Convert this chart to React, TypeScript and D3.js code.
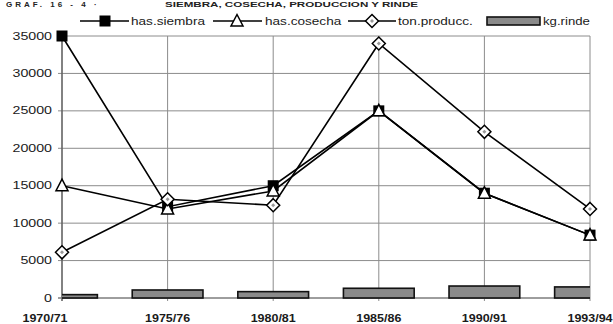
import React from 'react';
import * as d3 from 'd3';

const categories = ['1970/71', '1975/76', '1980/81', '1985/86', '1990/91', '1993/94'];
const hasSiembra = [35000, 12200, 15000, 25000, 14000, 8400];
const hasCosecha = [15000, 11900, 14300, 25000, 14000, 8400];
const tonProducc = [6100, 13200, 12400, 34000, 22200, 11900];
const kgRinde = [450, 1070, 850, 1300, 1600, 1480];
const yTicks = [0, 5000, 10000, 15000, 20000, 25000, 30000, 35000];
const legendLabels = ['has.siembra', 'has.cosecha', 'ton.producc.', 'kg.rinde'];
const titleLead = 'GRAF. 16 - 4 ·';
const titleText = 'SIEMBRA, COSECHA, PRODUCCION Y RINDE';

const W = 613;
const H = 324;
const X0 = 62;
const X1 = 590;
const Y0 = 298;
const Y1 = 36;
const FONT = 'Liberation Sans, Arial, sans-serif';

function SText({ x, y, sx, children, anchor = 'start', bold = false, size = 10 }: any) {
  return (
    <text
      transform={`translate(${x},${y}) scale(${sx},1)`}
      textAnchor={anchor}
      fontFamily={FONT}
      fontSize={size}
      fontWeight={bold ? 'bold' : 'normal'}
      fill="#1a1a1a"
    >
      {children}
    </text>
  );
}

function Square({ x, y }: any) {
  const s = 11;
  return <rect x={x - s / 2} y={y - s / 2} width={s} height={s} fill="#000" />;
}
function Triangle({ x, y }: any) {
  return (
    <path
      d={`M${x},${y - 6.5} L${x + 6},${y + 5} L${x - 6},${y + 5} Z`}
      fill="#fff"
      stroke="#000"
      strokeWidth={1.5}
      strokeLinejoin="miter"
    />
  );
}
function Diamond({ x, y }: any) {
  const r = 6.5;
  return (
    <g>
      <path d={`M${x},${y - r} L${x + r},${y} L${x},${y + r} L${x - r},${y} Z`} fill="#fff" stroke="#000" strokeWidth={1.5} />
      <path d={`M${x},${y - 2} L${x + 2},${y} L${x},${y + 2} L${x - 2},${y} Z`} fill="#999" />
    </g>
  );
}

export default function App() {
  const x = d3.scalePoint<string>().domain(categories).range([X0, X1]);
  const y = d3.scaleLinear().domain([0, 35000]).range([Y0, Y1]);
  const step = x.step();
  const barW = step * 0.67;
  const line = d3
    .line<number>()
    .x((_, i) => x(categories[i]) as number)
    .y((d) => y(d));

  const series = [
    { values: hasSiembra, Marker: Square },
    { values: hasCosecha, Marker: Triangle },
    { values: tonProducc, Marker: Diamond },
  ];

  const legendY = 21;

  return (
    <svg width={W} height={H} style={{ position: 'absolute', left: 0, top: 0, background: '#fff' }}>
      <defs>
        <clipPath id="plotclip">
          <rect x={X0} y={0} width={X1 - X0} height={Y0 + 1} />
        </clipPath>
      </defs>
      <rect x={0} y={0} width={W} height={H} fill="#fff" />
      {/* title */}
      <text x={6} y={7} fontFamily={FONT} fontSize={8} fontWeight="bold" fill="#222" letterSpacing={3}>
        {titleLead}
      </text>
      <text x={165} y={7} fontFamily={FONT} fontSize={8} fontWeight="bold" fill="#222" textLength={253} lengthAdjust="spacingAndGlyphs">
        {titleText}
      </text>

      {/* horizontal grid */}
      {yTicks.map((t) => (
        <line key={'h' + t} x1={X0 - 4} x2={X1} y1={y(t)} y2={y(t)} stroke="#8c8c8c" strokeWidth={1} />
      ))}
      {/* vertical grid */}
      {categories.map((c) => (
        <line key={'v' + c} x1={x(c)} x2={x(c)} y1={Y1} y2={Y0 + 3} stroke="#8c8c8c" strokeWidth={1} />
      ))}
      {/* axes */}
      <line x1={X0} x2={X0} y1={Y1} y2={Y0 + 3} stroke="#555" strokeWidth={1.2} />
      <line x1={X0 - 4} x2={X1} y1={Y0} y2={Y0} stroke="#777" strokeWidth={1.2} />

      {/* bars */}
      <g clipPath="url(#plotclip)">
        {kgRinde.map((v, i) => {
          const cx = x(categories[i]) as number;
          return (
            <rect
              key={'b' + i}
              x={cx - barW / 2}
              y={y(v)}
              width={barW}
              height={Y0 - y(v)}
              fill="#8a8a8a"
              stroke="#111"
              strokeWidth={1.6}
            />
          );
        })}
      </g>

      {/* lines and markers */}
      {series.map((s, si) => (
        <g key={'s' + si}>
          <path d={line(s.values) as string} fill="none" stroke="#000" strokeWidth={1.6} />
          {s.values.map((v, i) => (
            <s.Marker key={i} x={x(categories[i])} y={y(v)} />
          ))}
        </g>
      ))}

      {/* y labels */}
      {yTicks.map((t) => (
        <SText key={'yl' + t} x={52} y={y(t) + 3.6} sx={1.42} anchor="end">
          {t}
        </SText>
      ))}
      {/* x labels */}
      {categories.map((c, i) => (
        <SText key={'xl' + c} x={i === 0 ? 45 : (x(c) as number)} y={322} sx={1.25} anchor="middle" bold>
          {c}
        </SText>
      ))}

      {/* legend */}
      <g>
        <line x1={80} x2={129} y1={legendY} y2={legendY} stroke="#000" strokeWidth={1.6} />
        <Square x={105} y={legendY} />
        <SText x={131} y={legendY + 3.6} sx={1.36}>{legendLabels[0]}</SText>
        <line x1={213} x2={262} y1={legendY} y2={legendY} stroke="#000" strokeWidth={1.6} />
        <Triangle x={237} y={legendY} />
        <SText x={265} y={legendY + 3.6} sx={1.36}>{legendLabels[1]}</SText>
        <line x1={348} x2={396} y1={legendY} y2={legendY} stroke="#000" strokeWidth={1.6} />
        <Diamond x={372} y={legendY} />
        <SText x={398} y={legendY + 3.6} sx={1.36}>{legendLabels[2]}</SText>
        <rect x={487} y={legendY - 4} width={53} height={8} fill="#8a8a8a" stroke="#111" strokeWidth={1.6} />
        <SText x={543} y={legendY + 3.6} sx={1.32}>{legendLabels[3]}</SText>
      </g>
    </svg>
  );
}
